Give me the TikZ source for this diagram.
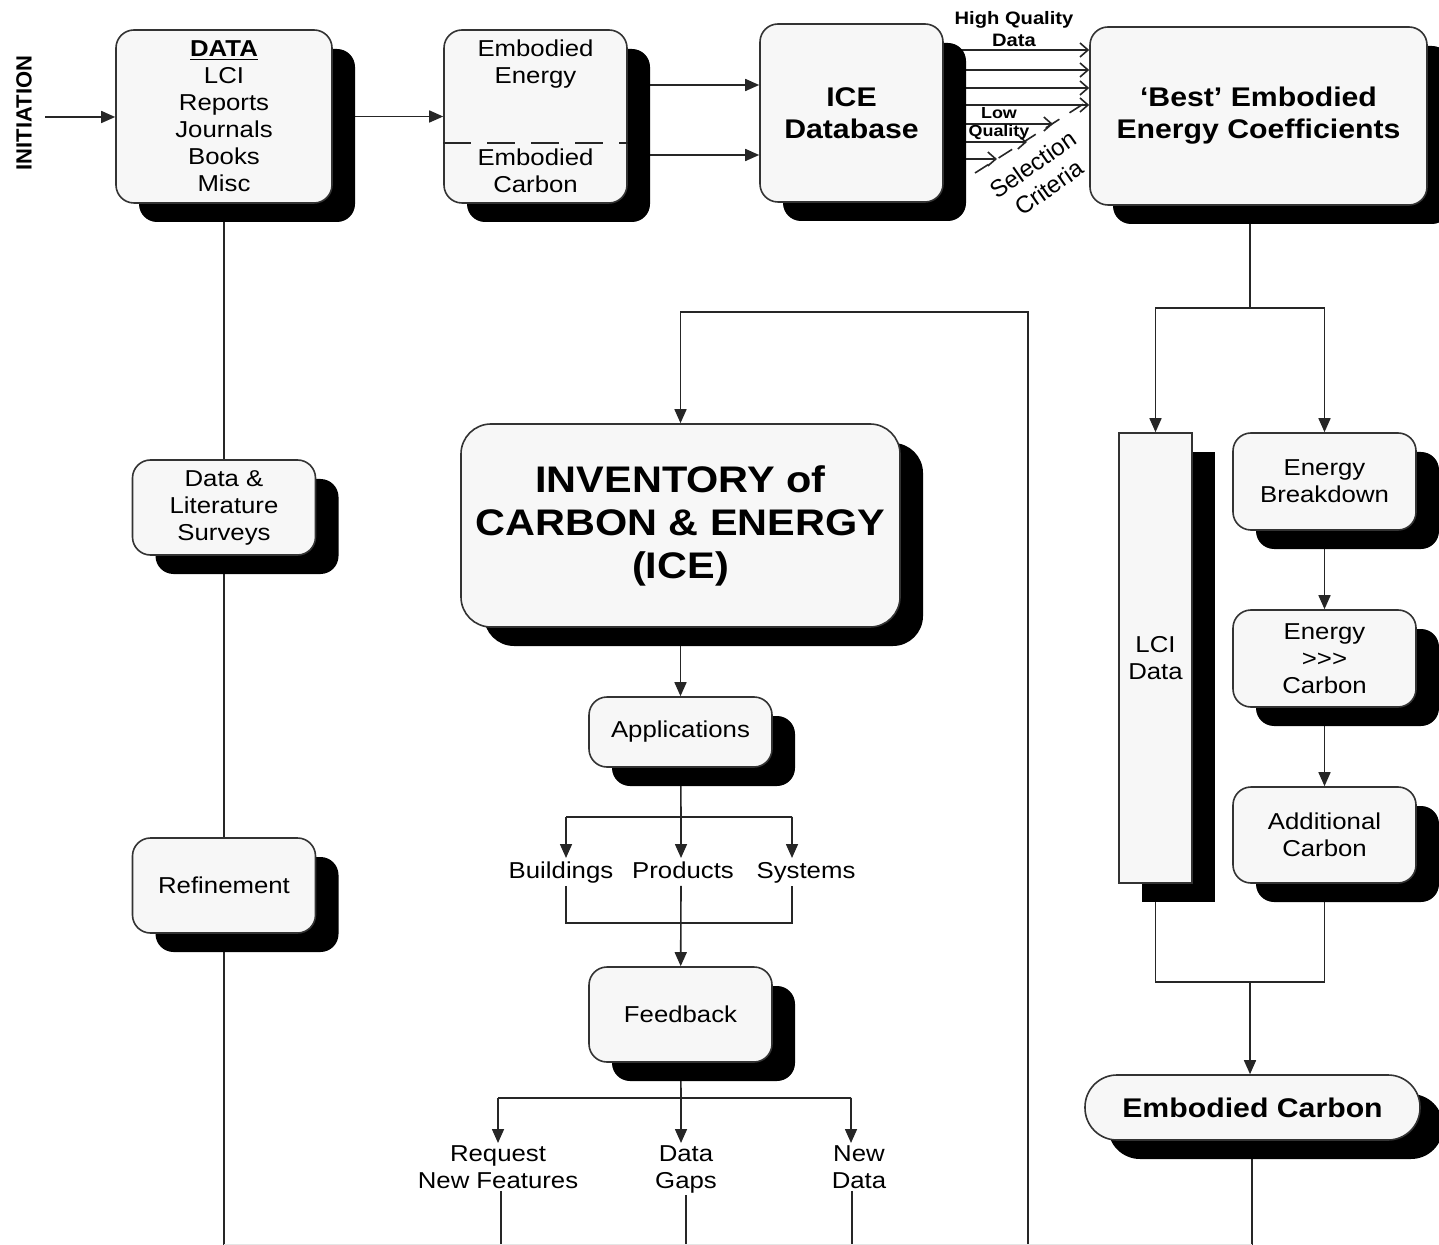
\documentclass[tikz,border=0pt]{standalone}
\usepackage{fontspec}
\setmainfont{Liberation Sans}[FakeStretch=1.12]
\newfontfamily\upfont{Liberation Sans}
\usepackage{tikz}
\usetikzlibrary{positioning,calc,arrows.meta,shadows,backgrounds}
\tikzset{>={Triangle[length=7pt,width=6pt]},
  blk/.style={draw=black!80,line width=.8pt,fill=black!3,rounded corners=9pt,align=center,inner sep=0pt,
    drop shadow={shadow xshift=11.5pt,shadow yshift=-9.5pt,fill=black,opacity=1},
    font=\fontsize{11.5}{13.5}\selectfont},
  lbl/.style={inner sep=1pt,align=center,font=\fontsize{11.5}{13.5}\selectfont},
  tag/.style={lbl,anchor=north,text height=9pt,text depth=2.5pt},
  big/.style={font=\bfseries\fontsize{13.5}{16}\selectfont},
  wire/.style={line width=.8pt,draw=black!85},
  barb/.style={-{Straight Barb[length=4pt,width=7pt]}}}

\begin{document}
\begin{tikzpicture}[x=.5pt,y=-.5pt]
\useasboundingbox (0,0) rectangle (1439,1245);
\node[blk,minimum width=108pt,minimum height=86.5pt] (data) at (224,116.5) {\underline{\textbf{DATA}}\\LCI\\Reports\\Journals\\Books\\Misc};
\node[blk,minimum width=91.5pt,minimum height=86.5pt] (emb) at (535.5,116.5) {};
\node[lbl] (embE) at (535.5,64.5) {Embodied\\Energy};
\node[lbl] (embC) at (535.5,171) {Embodied\\Carbon};
\draw[wire,dash pattern=on 14pt off 8pt] (emb.west |- 0,143) -- (emb.east |- 0,143);
\node[blk,big,minimum width=91.5pt,minimum height=89pt] (icedb) at (851.5,113) {ICE\\Database};
\node[blk,big,minimum width=168.5pt,minimum height=89pt] (best) at (1258.5,116) {`Best' Embodied\\Energy Coefficients};
\node[font=\upfont\bfseries\fontsize{11}{13}\selectfont,rotate=90] (init) at (24,113) {INITIATION};
\node[font=\bfseries\fontsize{9}{11}\selectfont,align=center] (hq) at (1014,29) {High Quality\\Data};
\node[font=\bfseries\fontsize{8}{9}\selectfont,align=center] (lq) at (999,124) {Low\\Quality};
\node[font=\upfont\fontsize{12}{14}\selectfont,align=center,rotate=35] (sel) at (1041,176) {Selection\\Criteria};
\node[blk,minimum width=91.5pt,minimum height=47.5pt] (survey) at (224,507.5) {Data \&\\Literature\\Surveys};
\node[blk,minimum width=91.5pt,minimum height=47.5pt] (refine) at (224,885.5) {Refinement};
\node[blk,rounded corners=15pt,minimum width=219.5pt,minimum height=101.5pt,font=\bfseries\fontsize{18.5}{21.5}\selectfont] (inv) at (680.5,525.5) {INVENTORY of\\CARBON \& ENERGY\\(ICE)};
\node[blk,minimum width=91.5pt,minimum height=35pt] (apps) at (680.5,732) {Applications};
\node[tag] (build) at (561,858) {Buildings};
\node[tag] (prod) at (683,858) {Products};
\node[tag] (sys) at (806,858) {Systems};
\node[blk,minimum width=91.5pt,minimum height=47.5pt] (feed) at (680.5,1014.5) {Feedback};
\node[lbl,anchor=north] (req) at (498,1143) {Request\\New Features};
\node[lbl,anchor=north] (gaps) at (686,1143) {Data\\Gaps};
\node[lbl,anchor=north] (newd) at (859,1143) {New\\Data};
\node[blk,sharp corners,minimum width=36.5pt,minimum height=225pt] (lci) at (1155.5,658) {LCI\\Data};
\node[blk,minimum width=91.5pt,minimum height=48.5pt] (ebreak) at (1324.5,481.5) {Energy\\Breakdown};
\node[blk,minimum width=91.5pt,minimum height=48.5pt] (e2c) at (1324.5,658.5) {Energy\\>{}>{}>\\Carbon};
\node[blk,minimum width=91.5pt,minimum height=48pt] (addc) at (1324.5,835) {Additional\\Carbon};
\node[blk,big,rounded corners=16pt,minimum width=167.5pt,minimum height=32.5pt] (ecarb) at (1252.5,1107.5) {Embodied Carbon};
\coordinate (start) at (45,117);
\coordinate (sp) at (1250,308);
\coordinate (jn) at (1250,982);
\coordinate (lp) at (1028,312);
\coordinate (ap) at (681,817);
\coordinate (ap1) at (566,817);
\coordinate (ap3) at (792,817);
\coordinate (fb1) at (566,923);
\coordinate (fb3) at (792,923);
\coordinate (fd) at (681,1098);
\coordinate (fd1) at (498,1098);
\coordinate (fd3) at (851,1098);
\coordinate (b1) at (224,1245);
\coordinate (b2) at (501,1245);
\coordinate (b3) at (686,1245);
\coordinate (b4) at (852,1245);
\coordinate (b5) at (1028,1245);
\coordinate (b6) at (1252,1245);
\begin{scope}[on background layer]
\draw[wire,->] (start) -- (start -| data.west);
\draw[wire,->] (data) -- (emb);
\draw[wire,->] (emb.east |- 0,85) -- (icedb.west |- 0,85);
\draw[wire,->] (emb.east |- 0,155) -- (icedb.west |- 0,155);
\foreach \y in {50,70,88,105} \draw[wire,barb] (icedb.east |- 0,\y) -- (best.west |- 0,\y);
\foreach \y/\x in {124/1053,142/1027,159/997} \draw[wire,barb] (icedb.east |- 0,\y) -- (\x,\y);
\draw[wire,->] (best.south -| sp) -- (sp) -| (lci.north);
\draw[wire,->] (sp) -| (ebreak.north);
\draw[wire,->] (ebreak) -- (e2c);
\draw[wire,->] (e2c) -- (addc);
\draw[wire] (lci.south) |- (jn) -| (addc.south);
\draw[wire,->] (jn) -- (jn |- ecarb.north);
\draw[wire] (ecarb.south -| b6) -- (b6);
\draw[wire] (data) -- (survey) -- (refine) -- (b1);
\draw[wire,->] (b5) -- (lp) -| (inv.north);
\draw[wire,->] (inv) -- (apps);
\draw[wire] (apps) -- (ap) (ap1) -- (ap3);
\draw[wire,->] (ap1) -- (ap1 |- build.north);
\draw[wire,->] (ap) -- (ap |- prod.north);
\draw[wire,->] (ap3) -- (ap3 |- sys.north);
\draw[wire] (ap1 |- build.south) -- (fb1) -- (fb3) -- (ap3 |- sys.south);
\draw[wire,->] (ap |- prod.south) -- (feed);
\draw[wire] (feed) -- (fd) (fd1) -- (fd3);
\draw[wire,->] (fd1) -- (fd1 |- req.north);
\draw[wire,->] (fd) -- (fd |- gaps.north);
\draw[wire,->] (fd3) -- (fd3 |- newd.north);
\draw[wire] (req.south -| b2) -- (b2) (gaps.south -| b3) -- (b3) (newd.south -| b4) -- (b4);
\draw[black!10,line width=.8pt] (b1) -- (b6);
\end{scope}
\draw[wire,dash pattern=on 8pt off 6pt] (975,173) -- (1088,101);
\end{tikzpicture}
\end{document}
